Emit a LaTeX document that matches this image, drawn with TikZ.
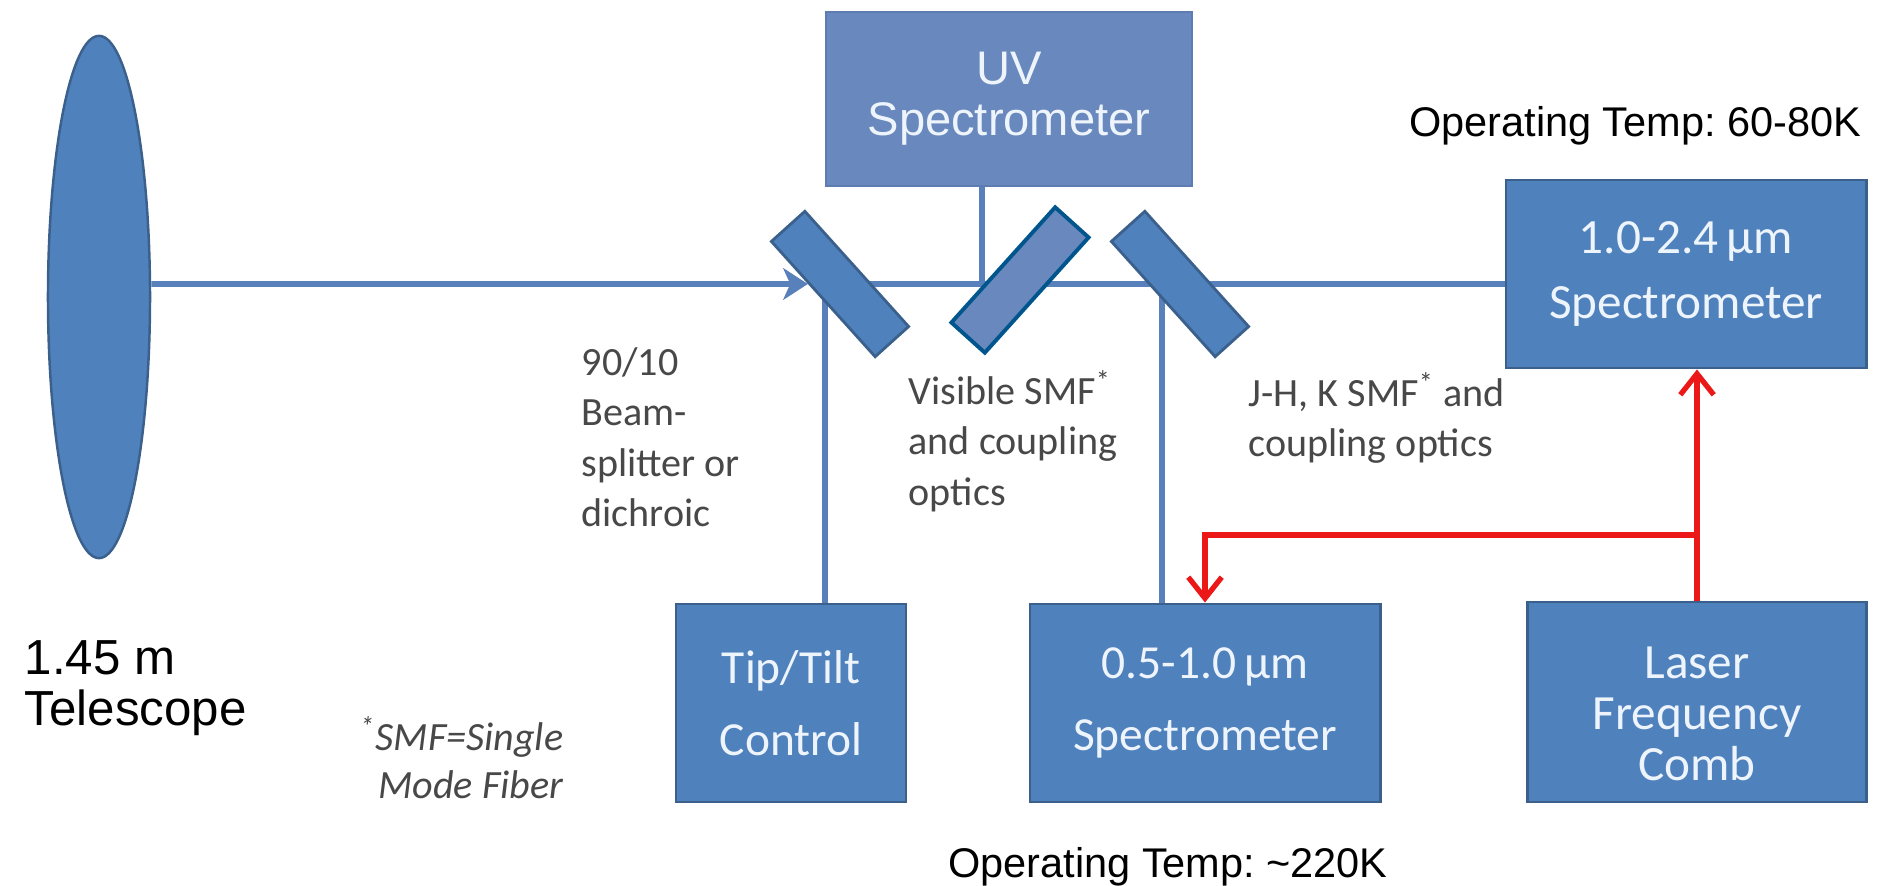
\documentclass[tikz,border=0pt]{standalone}
\usepackage{fontspec}
\setmainfont{Carlito}
\newfontfamily\arialfont{Liberation Sans}
\usetikzlibrary{arrows.meta,positioning,shapes.geometric,calc,backgrounds}
\frenchspacing
\definecolor{boxfill}{RGB}{79,129,189}
\definecolor{boxedge}{RGB}{60,96,140}
\definecolor{boxtext}{RGB}{238,244,251}
\definecolor{uvfill}{RGB}{104,136,190}
\definecolor{uvedge}{RGB}{92,124,178}
\definecolor{visedge}{RGB}{0,86,140}
\definecolor{beamcol}{RGB}{88,128,186}
\definecolor{combred}{RGB}{236,24,24}
\definecolor{notegray}{RGB}{72,72,72}
\tikzset{
  box/.style   ={draw=boxedge, line width=0.8pt, fill=boxfill, text=boxtext, align=center, inner sep=0pt,
                 font=\fontsize{13.5}{20.5}\selectfont},
  uvbox/.style ={draw=uvedge, line width=0.5pt, fill=uvfill, text=boxtext, align=center, inner sep=0pt,
                 font=\arialfont\fontsize{13.4}{14.4}\selectfont},
  lens/.style  ={ellipse, draw=boxedge, line width=0.7pt, fill=boxfill, inner sep=0pt},
  mirror/.style={draw=boxedge, line width=0.8pt, fill=boxfill, inner sep=0pt,
                 minimum width=1.55cm, minimum height=0.45cm},
  beam/.style  ={draw=beamcol, line width=1.7pt},
  feed/.style  ={draw=combred, line width=1.5pt},
  note/.style  ={font=\fontsize{11.4}{14.3}\selectfont, text=notegray, align=left, inner sep=0pt},
  temp/.style  ={font=\arialfont\fontsize{11.8}{14}\selectfont, inner sep=0pt}
}
\begin{document}
\begin{tikzpicture}[x=0.01cm, y=-0.01cm]
  \useasboundingbox (0,0) rectangle (1882,886);
  \node[lens, minimum width=1.02cm, minimum height=5.22cm] (tel) at (99,297) {};
  \node[uvbox, minimum width=3.66cm, minimum height=1.74cm] (uv) at (1009,99) {UV\\Spectrometer};
  \node[box, font=\fontsize{14}{18.5}\selectfont, minimum width=3.60cm, minimum height=1.88cm] (irspec) at (1686,274) {1.0-2.4\,µm\\Spectrometer};
  \node[box, minimum width=2.30cm, minimum height=1.98cm] (tiptilt) at (791,703) {Tip/Tilt\\Control};
  \node[box, minimum width=3.50cm, minimum height=1.98cm] (optspec) at (1205,703) {0.5-1.0\,µm\\Spectrometer};
  \node[box, font=\fontsize{14}{14.5}\selectfont, minimum width=3.39cm, minimum height=2.00cm] (comb) at (1697,702) {\rule{0pt}{16pt}Laser\\Frequency\\Comb};
  \node[mirror, rotate=-48] (bs) at (840,284) {};
  \node[mirror, rotate=48, fill=uvfill, draw=visedge, line width=1.1pt] (vis) at (1020,280) {};
  \node[mirror, rotate=-48] (nir) at (1180,284) {};
  \coordinate (uvtap) at (982,284);
  \coordinate (tttap) at (825,284);
  \coordinate (optap) at (1162,284);
  \coordinate (split) at (comb.north |- 0,535);
  \begin{scope}[on background layer]
    \draw[beam, -{Stealth[length=7pt, width=9pt, inset=2pt]}] (tel.east |- bs.center) -- (bs);
    \draw[beam] (bs.center) -- (nir.center);
    \draw[beam] (nir.center) -- (irspec.west |- nir.center);
    \draw[beam] (uvtap |- uv.south) -- (uvtap);
    \draw[beam] (tttap) -- (tttap |- tiptilt.north);
    \draw[beam] (optap) -- (optap |- optspec.north);
  \end{scope}
  \draw[feed, -{Straight Barb[length=6pt, width=9.5pt]}] (comb.north) -- (comb.north |- irspec.south);
  \draw[feed, -{Straight Barb[length=6pt, width=9.5pt]}] (split) -| (optspec.north);
  \node[note, anchor=north west] (bsnote) at (581,347) {90/10\\Beam-\\splitter or\\dichroic};
  \node[note, anchor=north west] (visnote) at (908,370) {Visible SMF\textsuperscript{*}\\and coupling\\optics};
  \node[note, anchor=north west] (nirnote) at (1248,372) {J-H, K SMF\textsuperscript{*} and\\coupling optics};
  \node[note, font=\itshape\fontsize{11.4}{13.5}\selectfont, align=right, anchor=north east] (smfnote) at (564,716) {\textsuperscript{*}SMF=Single\\Mode Fiber};
  \node[anchor=north west, inner sep=0pt, align=left, font=\arialfont\fontsize{14}{14.5}\selectfont] (tellabel) at (24,640) {1.45 m\\Telescope};
  \node[temp, anchor=base east] (irtemp) at (1862,137) {Operating Temp: 60-80K};
  \node[temp, anchor=base] (opttemp) at (1168,877) {Operating Temp: \textasciitilde220K};
\end{tikzpicture}
\end{document}
